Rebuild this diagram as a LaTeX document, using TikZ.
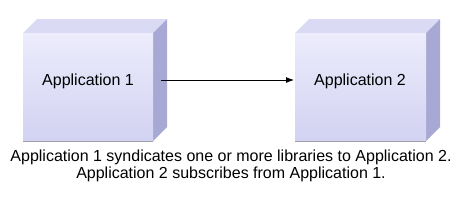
\documentclass[tikz,border=0pt]{standalone}
\usepackage{fontspec}
\setmainfont{Liberation Sans}
\usetikzlibrary{arrows.meta}
\begin{document}
\begin{tikzpicture}[x=1pt,y=-1pt,
  front/.style={top color=frontTop,bottom color=frontBot,draw=none},
  topface/.style={fill=topC,draw=none},
  sideface/.style={fill=sideC,draw=none},
  lbl/.style={font=\fontsize{16}{18}\selectfont,inner sep=0pt},
  captxt/.style={font=\fontsize{16}{16.5}\selectfont,align=center,inner sep=0pt}]
\definecolor{frontTop}{HTML}{ECECFC}
\definecolor{frontBot}{HTML}{D2D2F2}
\definecolor{topC}{HTML}{DADAF4}
\definecolor{sideC}{HTML}{A8A8D4}
\definecolor{shadowC}{HTML}{A0A0A8}
\useasboundingbox (0,0) rectangle (462,210);
% box 1
\fill[topface] (23,33) -- (37,19) -- (167,19) -- (153,33) -- cycle;
\fill[sideface] (153,33) -- (167,19) -- (167,127) -- (153,141) -- cycle;
\fill[front] (23,33) rectangle (153,141);
\draw[shadowC,line width=1pt] (23,141.5) -- (153,141.5);
\node[lbl] (a1) at (88,81) {Application 1};
\coordinate (a1r) at (161,80);
% box 2
\fill[topface] (295,33) -- (309,19) -- (440,19) -- (426,33) -- cycle;
\fill[sideface] (426,33) -- (440,19) -- (440,127) -- (426,141) -- cycle;
\fill[front] (295,33) rectangle (426,141);
\draw[shadowC,line width=1pt] (295,141.5) -- (426,141.5);
\node[lbl] (a2) at (360,81) {Application 2};
\coordinate (a2l) at (294,80);
\draw[-{Latex[length=8pt,width=6pt]},line width=0.9pt] (a1r) -- (a2l);
\node[captxt] (c) at (231,166) {Application 1 syndicates one or more libraries to Application 2.\\Application 2 subscribes from Application 1.};
\end{tikzpicture}
\end{document}
